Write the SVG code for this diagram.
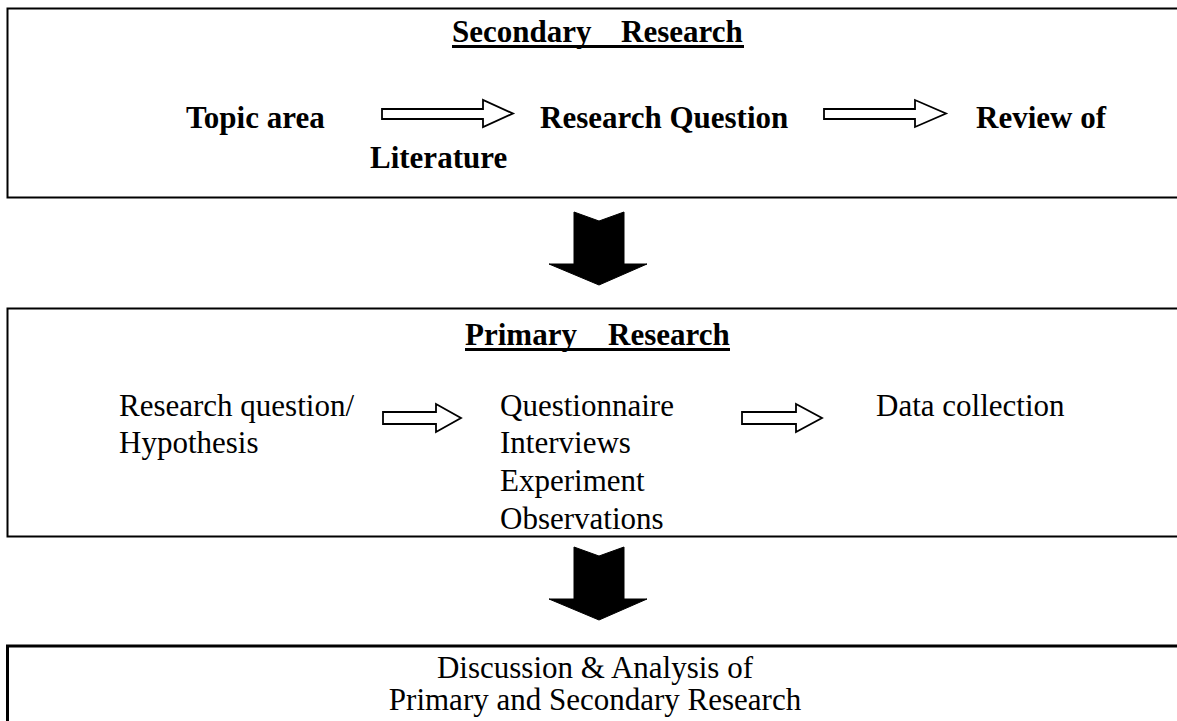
<svg xmlns="http://www.w3.org/2000/svg" width="1177" height="721" viewBox="0 0 1177 721">
<style>
.t{font-family:"Liberation Serif","Times New Roman",serif;font-size:31px;fill:#000}
.b{font-weight:bold}
.box{fill:none;stroke:#000;stroke-width:2}
.ha{fill:#fff;stroke:#000;stroke-width:1.8;stroke-linejoin:miter}
.da{fill:#000;stroke:#000;stroke-width:1}
</style>
<rect width="1177" height="721" fill="#fff"/>
<g id="secondary">
<path class="box" d="M1180,8.5 H7.5 V197.5 H1180"/>
<text class="t b" x="452" y="42">Secondary</text>
<text class="t b" x="621" y="42">Research</text>
<rect x="452" y="45" width="292" height="3" fill="#000"/>
<text class="t b" x="186" y="128">Topic area</text>
<text class="t b" x="540" y="128">Research Question</text>
<text class="t b" x="976" y="128">Review of</text>
<text class="t b" x="370" y="168">Literature</text>
</g>
<g id="primary">
<path class="box" d="M1180,308.5 H7.5 V536.5 H1180"/>
<text class="t b" x="465" y="345">Primary</text>
<text class="t b" x="608" y="345">Research</text>
<rect x="465" y="348" width="265" height="3" fill="#000"/>
<text class="t" x="119" y="416">Research question/</text>
<text class="t" x="119" y="453">Hypothesis</text>
<text class="t" x="500" y="416">Questionnaire</text>
<text class="t" x="500" y="453">Interviews</text>
<text class="t" x="500" y="491">Experiment</text>
<text class="t" x="500" y="529">Observations</text>
<text class="t" x="876" y="416">Data collection</text>
</g>
<g id="discussion">
<path d="M1180,646 H7.5 V725" fill="none" stroke="#000" stroke-width="3"/>
<text class="t" x="595" y="678" text-anchor="middle">Discussion &amp; Analysis of</text>
<text class="t" x="595" y="710" text-anchor="middle">Primary and Secondary Research</text>
</g>
<g id="connectors">
<path class="ha" d="M382,109 H483 V100 L513,113.5 L483,127 V119 H382 Z"/>
<path class="ha" d="M824,109 H915 V100 L946,113.5 L915,127 V119 H824 Z"/>
<path class="ha" d="M383,412 H436 V404 L461,418 L436,432 V424 H383 Z"/>
<path class="ha" d="M742,412 H796 V404 L822,418 L796,432 V424 H742 Z"/>
<path class="da" d="M574,212 L599,221 L624,212 V264 H647 L599,285 L549,264 H574 Z"/>
<path class="da" d="M574,547 L599,556 L624,547 V599 H647 L599,620 L549,599 H574 Z"/>
</g>
</svg>
